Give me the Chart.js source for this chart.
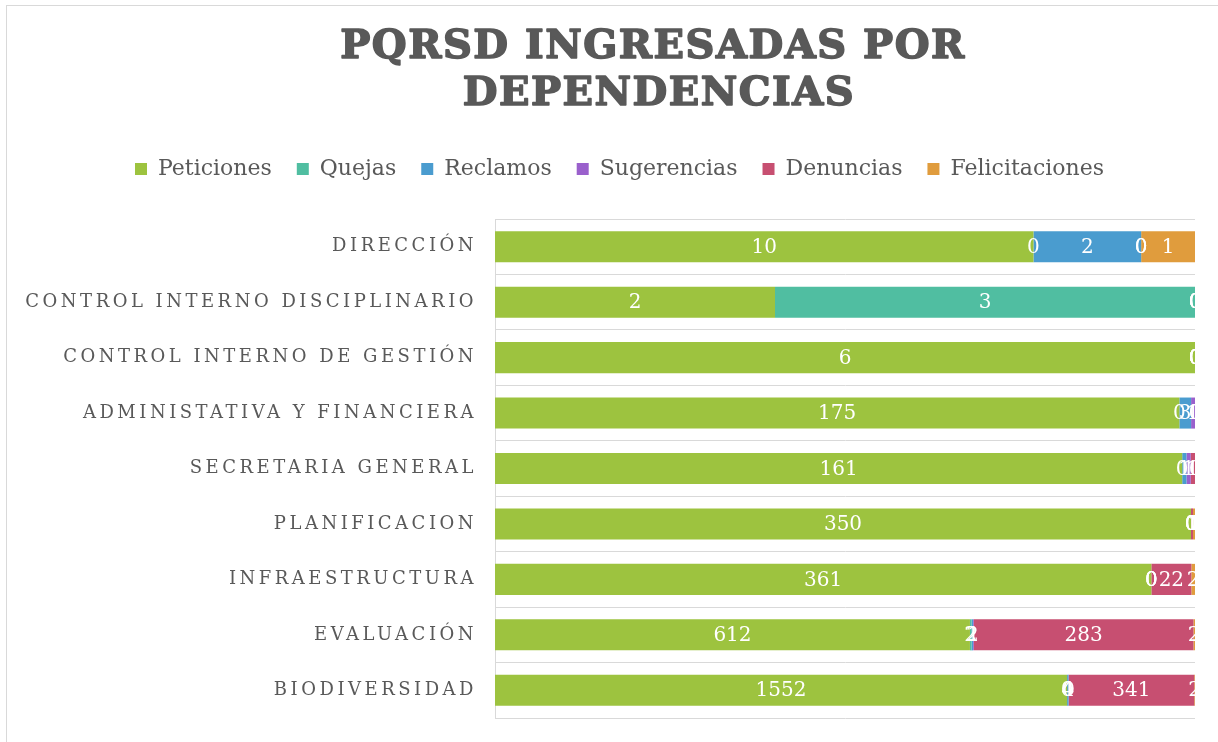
<!DOCTYPE html>
<html>
<head>
<meta charset="utf-8">
<script src="https://cdn.jsdelivr.net/npm/chart.js@4/dist/chart.umd.min.js"></script>
<style>
  html, body { margin: 0; padding: 0; background: #fff; }
  #wrap { width: 1218px; height: 742px; }
</style>
</head>
<body>
<div id="wrap"><canvas id="chart" width="1218" height="742"></canvas></div>
<script>
const titleLines = ['PQRSD INGRESADAS POR', 'DEPENDENCIAS'];

const categories = ['DIRECCIÓN', 'CONTROL INTERNO DISCIPLINARIO', 'CONTROL INTERNO DE GESTIÓN',
    'ADMINISTATIVA Y FINANCIERA', 'SECRETARIA GENERAL', 'PLANIFICACION',
    'INFRAESTRUCTURA', 'EVALUACIÓN', 'BIODIVERSIDAD'];

const seriesNames = ['Peticiones', 'Quejas', 'Reclamos', 'Sugerencias', 'Denuncias', 'Felicitaciones'];
const peticiones     = [10, 2, 6, 175, 161, 350, 361, 612, 1552];
const quejas         = [0, 3, 0, 0, 0, 0, 0, 2, 0];
const reclamos       = [2, 0, 0, 3, 1, 0, 0, 2, 4];
const sugerencias    = [0, 0, 0, 1, 1, 0, 0, 1, 0];
const denuncias      = [0, 0, 0, 0, 1, 1, 22, 283, 341];
const felicitaciones = [1, 0, 0, 0, 0, 1, 2, 2, 2];

const colors = ['#9dc33f', '#50bea1', '#4a9ccf', '#9a60cc', '#c74f71', '#e09c3d'];
const rawSeries = [peticiones, quejas, reclamos, sugerencias, denuncias, felicitaciones];

// 100% stacked: each bar split by its own total
const totals = categories.map((c, j) => rawSeries.reduce((s, arr) => s + arr[j], 0));

const datasets = rawSeries.map((arr, i) => ({
    label: seriesNames[i],
    data: arr.map((v, j) => v / totals[j] * 100),
    backgroundColor: colors[i],
    borderWidth: 0,
    categoryPercentage: 1,
    barPercentage: 0.56
}));

const grey = '#595959';

const extrasPlugin = {
    id: 'extras',
    beforeDraw(chart) {
        const ctx = chart.ctx;
        ctx.save();
        ctx.strokeStyle = '#d9d9d9';
        ctx.lineWidth = 1;
        ctx.strokeRect(6.5, 5.5, 1400, 900);
        // title, heavy slab look
        ctx.fillStyle = grey;
        ctx.strokeStyle = grey;
        ctx.lineWidth = 1.6;
        ctx.lineJoin = 'round';
        ctx.font = 'bold 40px "DejaVu Serif"';
        ctx.letterSpacing = '1.5px';
        ctx.textAlign = 'center';
        ctx.textBaseline = 'middle';
        [[titleLines[0], 653, 48], [titleLines[1], 659, 95]].forEach(([t, x, y]) => {
            ctx.fillText(t, x, y);
            ctx.strokeText(t, x, y);
        });
        ctx.restore();
    },
    afterDatasetsDraw(chart) {
        const ctx = chart.ctx;
        const area = chart.chartArea;
        ctx.save();
        ctx.beginPath();
        ctx.rect(area.left, area.top, area.right - area.left, area.bottom - area.top);
        ctx.clip();
        ctx.fillStyle = '#ffffff';
        ctx.font = '20px "DejaVu Serif"';
        ctx.textAlign = 'center';
        ctx.textBaseline = 'middle';
        chart.data.datasets.forEach((ds, i) => {
            chart.getDatasetMeta(i).data.forEach((bar, j) => {
                const x = (bar.x + bar.base) / 2;
                ctx.fillText(String(rawSeries[i][j]), x, bar.y + 1);
            });
        });
        ctx.restore();
    },
    afterDraw(chart) {
        const ctx = chart.ctx;
        const yScale = chart.scales.y;
        ctx.save();
        ctx.fillStyle = grey;
        ctx.font = '18px "DejaVu Serif"';
        ctx.letterSpacing = '3.5px';
        ctx.textAlign = 'right';
        ctx.textBaseline = 'middle';
        categories.forEach((c, i) => {
            ctx.fillText(c, 477, yScale.getPixelForValue(i));
        });
        ctx.restore();
    }
};

new Chart(document.getElementById('chart').getContext('2d'), {
    type: 'bar',
    data: { labels: categories, datasets: datasets },
    options: {
        responsive: false,
        animation: false,
        indexAxis: 'y',
        layout: { padding: { top: 133, right: 23, bottom: 24, left: 44 } },
        plugins: {
            title: { display: false },
            tooltip: { enabled: false },
            legend: {
                position: 'top',
                labels: {
                    boxWidth: 12,
                    boxHeight: 12,
                    padding: 25,
                    color: grey,
                    font: { family: 'DejaVu Serif', size: 22 }
                }
            }
        },
        scales: {
            x: {
                position: 'top',
                stacked: true,
                min: 0,
                max: 100,
                ticks: { display: false },
                grid: { display: false },
                border: { display: false },
                afterFit(s) { s.height = 29; }
            },
            y: {
                stacked: true,
                ticks: { display: false },
                grid: { color: '#d9d9d9', drawTicks: false, offset: true },
                border: { color: '#d9d9d9' },
                afterFit(s) { s.width = 451; }
            }
        }
    },
    plugins: [extrasPlugin]
});
</script>
</body>
</html>
